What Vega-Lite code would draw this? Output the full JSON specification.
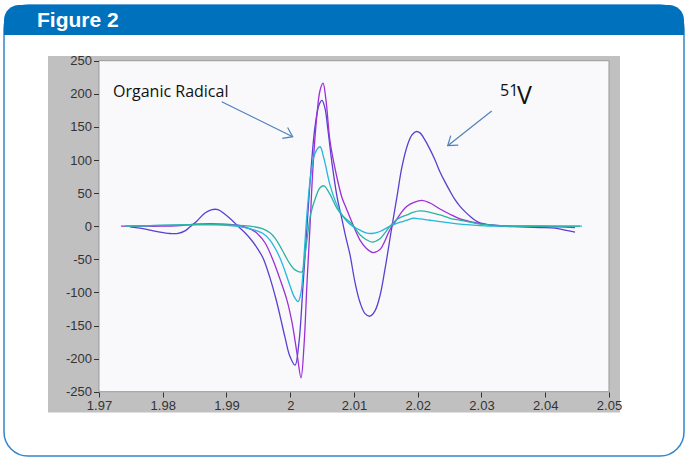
{
  "$schema": "https://vega.github.io/schema/vega-lite/v6.json",
  "width": 680,
  "height": 451,
  "autosize": {"type": "none"},
  "padding": {"left": 4, "top": 5, "right": 2, "bottom": 2},
  "background": "white",
  "config": {
    "view": {"fill": "white", "stroke": "#2f86cc", "strokeWidth": 1.5, "cornerRadius": 24},
    "axis": {"domain": false, "grid": false, "labelFont": "Liberation Sans", "labelFontSize": 13, "labelColor": "#333333", "tickColor": "#333333", "tickSize": 5, "tickWidth": 1, "labelPadding": 2, "labelFlush": false}
  },
  "layer": [
    {
      "data": {"values": [{}]},
      "mark": {"type": "rect", "fill": "#0071bc", "cornerRadiusTopLeft": 24, "cornerRadiusTopRight": 24},
      "encoding": {
        "x": {"datum": 1.955098, "type": "quantitative"},
        "x2": {"datum": 2.061765},
        "y": {"datum": 334.14, "type": "quantitative"},
        "y2": {"datum": 288.82}
      }
    },
    {
      "data": {"values": [{"label": "Figure 2"}]},
      "mark": {"type": "text", "align": "left", "baseline": "middle", "font": "Liberation Sans", "fontWeight": "bold", "fontSize": 21, "color": "white"},
      "encoding": {
        "x": {"datum": 1.960275, "type": "quantitative"},
        "y": {"datum": 309.97, "type": "quantitative"},
        "text": {"field": "label"}
      }
    },
    {
      "data": {"values": [{}]},
      "mark": {"type": "rect", "fill": "#c0c0c0"},
      "encoding": {
        "x": {"datum": 1.962, "type": "quantitative"},
        "x2": {"datum": 2.051725},
        "y": {"datum": 257.1, "type": "quantitative"},
        "y2": {"datum": -281.4}
      }
    },
    {
      "data": {"values": [{}]},
      "mark": {"type": "rect", "fill": "#f9f9fb", "stroke": "#9a9a9a", "strokeWidth": 1},
      "encoding": {
        "x": {"datum": 1.97, "type": "quantitative"},
        "x2": {"datum": 2.05},
        "y": {"datum": 250, "type": "quantitative"},
        "y2": {"datum": -250}
      }
    },
    {
      "data": {"values": [
        {"s":"1","g":1.97486,"v":-1},{"s":"1","g":1.97643,"v":-3},{"s":"1","g":1.978,"v":-6},{"s":"1","g":1.97957,"v":-9},{"s":"1","g":1.98114,"v":-11},{"s":"1","g":1.98239,"v":-11},{"s":"1","g":1.98349,"v":-7},{"s":"1","g":1.98427,"v":-1},{"s":"1","g":1.98537,"v":8},{"s":"1","g":1.98663,"v":20},{"s":"1","g":1.98773,"v":25},{"s":"1","g":1.98867,"v":25},{"s":"1","g":1.98976,"v":18},{"s":"1","g":1.99086,"v":9},{"s":"1","g":1.9918,"v":0},{"s":"1","g":1.9929,"v":-10},{"s":"1","g":1.994,"v":-22},{"s":"1","g":1.99494,"v":-35},{"s":"1","g":1.99573,"v":-48},{"s":"1","g":1.99682,"v":-78},{"s":"1","g":1.99776,"v":-110},{"s":"1","g":1.99839,"v":-135},{"s":"1","g":1.99918,"v":-168},{"s":"1","g":1.99996,"v":-197},{"s":"1","g":2.00075,"v":-210},{"s":"1","g":2.00137,"v":-175},{"s":"1","g":2.002,"v":-90},{"s":"1","g":2.00263,"v":0},{"s":"1","g":2.00325,"v":85},{"s":"1","g":2.00388,"v":150},{"s":"1","g":2.00451,"v":183},{"s":"1","g":2.00498,"v":190},{"s":"1","g":2.00545,"v":178},{"s":"1","g":2.00592,"v":145},{"s":"1","g":2.00655,"v":95},{"s":"1","g":2.00733,"v":45},{"s":"1","g":2.00812,"v":10},{"s":"1","g":2.00875,"v":-18},{"s":"1","g":2.00937,"v":-43},{"s":"1","g":2.01016,"v":-85},{"s":"1","g":2.01094,"v":-115},{"s":"1","g":2.01173,"v":-132},{"s":"1","g":2.01251,"v":-136},{"s":"1","g":2.01329,"v":-128},{"s":"1","g":2.01408,"v":-105},{"s":"1","g":2.01486,"v":-65},{"s":"1","g":2.01596,"v":0},{"s":"1","g":2.01675,"v":45},{"s":"1","g":2.01753,"v":90},{"s":"1","g":2.01847,"v":125},{"s":"1","g":2.0191,"v":138},{"s":"1","g":2.01973,"v":143},{"s":"1","g":2.02035,"v":141},{"s":"1","g":2.02114,"v":130},{"s":"1","g":2.02192,"v":116},{"s":"1","g":2.02271,"v":100},{"s":"1","g":2.02349,"v":82},{"s":"1","g":2.02427,"v":67},{"s":"1","g":2.02506,"v":53},{"s":"1","g":2.02584,"v":40},{"s":"1","g":2.02663,"v":30},{"s":"1","g":2.02741,"v":22},{"s":"1","g":2.0282,"v":15},{"s":"1","g":2.02898,"v":9},{"s":"1","g":2.02976,"v":5},{"s":"1","g":2.03133,"v":2},{"s":"1","g":2.0329,"v":0},{"s":"1","g":2.03604,"v":-1},{"s":"1","g":2.03918,"v":-2},{"s":"1","g":2.04153,"v":-3},{"s":"1","g":2.0431,"v":-6},{"s":"1","g":2.04467,"v":-9},
        {"s":"2","g":1.97345,"v":0},{"s":"2","g":1.97643,"v":0},{"s":"2","g":1.97957,"v":0},{"s":"2","g":1.98271,"v":1},{"s":"2","g":1.98506,"v":3},{"s":"2","g":1.98741,"v":4},{"s":"2","g":1.98976,"v":3},{"s":"2","g":1.99212,"v":1},{"s":"2","g":1.99369,"v":-4},{"s":"2","g":1.99494,"v":-12},{"s":"2","g":1.99604,"v":-25},{"s":"2","g":1.99729,"v":-51},{"s":"2","g":1.99839,"v":-80},{"s":"2","g":1.99949,"v":-112},{"s":"2","g":2.00027,"v":-145},{"s":"2","g":2.00106,"v":-192},{"s":"2","g":2.00169,"v":-229},{"s":"2","g":2.00216,"v":-180},{"s":"2","g":2.00263,"v":-85},{"s":"2","g":2.0031,"v":0},{"s":"2","g":2.00357,"v":90},{"s":"2","g":2.0042,"v":170},{"s":"2","g":2.00467,"v":205},{"s":"2","g":2.00514,"v":216},{"s":"2","g":2.00561,"v":190},{"s":"2","g":2.00624,"v":128},{"s":"2","g":2.00718,"v":80},{"s":"2","g":2.00812,"v":43},{"s":"2","g":2.00875,"v":28},{"s":"2","g":2.00937,"v":13},{"s":"2","g":2.01016,"v":-5},{"s":"2","g":2.01094,"v":-21},{"s":"2","g":2.01188,"v":-33},{"s":"2","g":2.01298,"v":-40},{"s":"2","g":2.01408,"v":-35},{"s":"2","g":2.01486,"v":-22},{"s":"2","g":2.01565,"v":-5},{"s":"2","g":2.01643,"v":6},{"s":"2","g":2.01722,"v":18},{"s":"2","g":2.01831,"v":30},{"s":"2","g":2.01941,"v":36},{"s":"2","g":2.02067,"v":39},{"s":"2","g":2.02192,"v":35},{"s":"2","g":2.02349,"v":26},{"s":"2","g":2.02506,"v":18},{"s":"2","g":2.02663,"v":11},{"s":"2","g":2.0282,"v":7},{"s":"2","g":2.02976,"v":4},{"s":"2","g":2.03133,"v":2},{"s":"2","g":2.0329,"v":1},{"s":"2","g":2.03604,"v":0},{"s":"2","g":2.03918,"v":0},{"s":"2","g":2.04231,"v":-1},{"s":"2","g":2.04467,"v":-2},
        {"s":"3","g":1.97408,"v":0},{"s":"3","g":1.978,"v":1},{"s":"3","g":1.98271,"v":2},{"s":"3","g":1.98741,"v":2},{"s":"3","g":1.99055,"v":1},{"s":"3","g":1.9929,"v":-2},{"s":"3","g":1.99447,"v":-6},{"s":"3","g":1.99573,"v":-11},{"s":"3","g":1.99682,"v":-21},{"s":"3","g":1.99761,"v":-33},{"s":"3","g":1.99839,"v":-48},{"s":"3","g":1.99918,"v":-68},{"s":"3","g":1.99996,"v":-90},{"s":"3","g":2.00059,"v":-106},{"s":"3","g":2.00122,"v":-114},{"s":"3","g":2.00169,"v":-100},{"s":"3","g":2.00216,"v":-45},{"s":"3","g":2.00263,"v":20},{"s":"3","g":2.00325,"v":80},{"s":"3","g":2.00388,"v":110},{"s":"3","g":2.00467,"v":120},{"s":"3","g":2.00529,"v":102},{"s":"3","g":2.00624,"v":62},{"s":"3","g":2.00718,"v":35},{"s":"3","g":2.00812,"v":17},{"s":"3","g":2.00875,"v":9},{"s":"3","g":2.00937,"v":3},{"s":"3","g":2.01016,"v":-2},{"s":"3","g":2.01094,"v":-6},{"s":"3","g":2.01188,"v":-10},{"s":"3","g":2.01282,"v":-11},{"s":"3","g":2.01408,"v":-8},{"s":"3","g":2.01565,"v":0},{"s":"3","g":2.01722,"v":6},{"s":"3","g":2.01831,"v":9},{"s":"3","g":2.01925,"v":12},{"s":"3","g":2.02035,"v":11},{"s":"3","g":2.02192,"v":9},{"s":"3","g":2.02349,"v":7},{"s":"3","g":2.02506,"v":5},{"s":"3","g":2.02663,"v":3},{"s":"3","g":2.0282,"v":2},{"s":"3","g":2.02976,"v":1},{"s":"3","g":2.0329,"v":0},{"s":"3","g":2.03918,"v":0},{"s":"3","g":2.04576,"v":0},
        {"s":"4","g":1.97408,"v":0},{"s":"4","g":1.978,"v":1},{"s":"4","g":1.98271,"v":2},{"s":"4","g":1.98741,"v":3},{"s":"4","g":1.99055,"v":2},{"s":"4","g":1.99369,"v":0},{"s":"4","g":1.99573,"v":-4},{"s":"4","g":1.99682,"v":-10},{"s":"4","g":1.99761,"v":-18},{"s":"4","g":1.99839,"v":-30},{"s":"4","g":1.99918,"v":-44},{"s":"4","g":1.99996,"v":-57},{"s":"4","g":2.00075,"v":-66},{"s":"4","g":2.00184,"v":-69},{"s":"4","g":2.00216,"v":-55},{"s":"4","g":2.00263,"v":-20},{"s":"4","g":2.00325,"v":20},{"s":"4","g":2.00404,"v":45},{"s":"4","g":2.00467,"v":58},{"s":"4","g":2.00529,"v":61},{"s":"4","g":2.00624,"v":48},{"s":"4","g":2.00733,"v":27},{"s":"4","g":2.00827,"v":15},{"s":"4","g":2.00937,"v":6},{"s":"4","g":2.01016,"v":-3},{"s":"4","g":2.01094,"v":-13},{"s":"4","g":2.01188,"v":-20},{"s":"4","g":2.01282,"v":-24},{"s":"4","g":2.01408,"v":-19},{"s":"4","g":2.01486,"v":-10},{"s":"4","g":2.01565,"v":0},{"s":"4","g":2.01643,"v":8},{"s":"4","g":2.01722,"v":13},{"s":"4","g":2.01831,"v":17},{"s":"4","g":2.01925,"v":21},{"s":"4","g":2.02035,"v":23},{"s":"4","g":2.02192,"v":21},{"s":"4","g":2.02349,"v":17},{"s":"4","g":2.02506,"v":12},{"s":"4","g":2.02663,"v":9},{"s":"4","g":2.0282,"v":6},{"s":"4","g":2.02976,"v":3},{"s":"4","g":2.03133,"v":2},{"s":"4","g":2.0329,"v":1},{"s":"4","g":2.03604,"v":0},{"s":"4","g":2.03996,"v":0},{"s":"4","g":2.04545,"v":0}
      ]},
      "mark": {"type": "line", "interpolate": "catmull-rom", "strokeWidth": 1.3},
      "encoding": {
        "x": {"field": "g", "type": "quantitative", "title": null,
              "scale": {"domain": [1.955098, 2.061765], "nice": false, "zero": false},
              "axis": {"orient": "bottom", "zindex": 2, "values": [1.97, 1.98, 1.99, 2, 2.01, 2.02, 2.03, 2.04, 2.05], "labelExpr": "'' + datum.value", "offset": -64}},
        "y": {"field": "v", "type": "quantitative", "title": null,
              "scale": {"domain": [-347.13, 334.14], "nice": false, "zero": false},
              "axis": {"orient": "left", "zindex": 2, "values": [-250, -200, -150, -100, -50, 0, 50, 100, 150, 200, 250], "labelExpr": "'' + datum.value", "offset": -94.5}},
        "color": {"field": "s", "type": "nominal", "legend": null,
                  "scale": {"domain": ["1", "2", "3", "4"], "range": ["#5b3fd0", "#9b30d6", "#24b6dc", "#2bb3a0"]}}
      }
    },
    {
      "data": {"values": [{"label": "Organic Radical"}]},
      "mark": {"type": "text", "align": "left", "baseline": "middle", "font": "Open Sans", "fontSize": 16, "color": "#111111"},
      "encoding": {
        "x": {"datum": 1.9722, "type": "quantitative"},
        "y": {"datum": 202.7, "type": "quantitative"},
        "text": {"field": "label"}
      }
    },
    {
      "data": {"values": [{"label": "51"}]},
      "mark": {"type": "text", "align": "left", "baseline": "middle", "font": "Open Sans", "fontSize": 16, "color": "#111111"},
      "encoding": {
        "x": {"datum": 2.0329, "type": "quantitative"},
        "y": {"datum": 204.2, "type": "quantitative"},
        "text": {"field": "label"}
      }
    },
    {
      "data": {"values": [{"label": "V"}]},
      "mark": {"type": "text", "align": "left", "baseline": "middle", "font": "Open Sans", "fontSize": 25, "color": "#111111"},
      "encoding": {
        "x": {"datum": 2.03557, "type": "quantitative"},
        "y": {"datum": 196.7, "type": "quantitative"},
        "text": {"field": "label"}
      }
    },
    {
      "data": {"values": [{}]},
      "mark": {"type": "rule", "color": "#4f81bd", "strokeWidth": 1.2},
      "encoding": {
        "x": {"datum": 1.989247, "type": "quantitative"},
        "y": {"datum": 188.07, "type": "quantitative"},
        "x2": {"datum": 2.000384},
        "y2": {"datum": 135.2}
      }
    },
    {
      "data": {"values": [{}]},
      "mark": {"type": "point", "shape": "M-1,-0.7L0,0L-1,0.7", "filled": false, "stroke": "#4f81bd", "strokeWidth": 1.2, "size": 300, "angle": 26.2, "opacity": 1},
      "encoding": {
        "x": {"datum": 2.000384, "type": "quantitative"},
        "y": {"datum": 135.2, "type": "quantitative"}
      }
    },
    {
      "data": {"values": [{}]},
      "mark": {"type": "rule", "color": "#4f81bd", "strokeWidth": 1.2},
      "encoding": {
        "x": {"datum": 2.0316, "type": "quantitative"},
        "y": {"datum": 174.02, "type": "quantitative"},
        "x2": {"datum": 2.024698},
        "y2": {"datum": 121.6}
      }
    },
    {
      "data": {"values": [{}]},
      "mark": {"type": "point", "shape": "M-1,-0.7L0,0L-1,0.7", "filled": false, "stroke": "#4f81bd", "strokeWidth": 1.2, "size": 300, "angle": 141.7, "opacity": 1},
      "encoding": {
        "x": {"datum": 2.024698, "type": "quantitative"},
        "y": {"datum": 121.6, "type": "quantitative"}
      }
    }
  ]
}
